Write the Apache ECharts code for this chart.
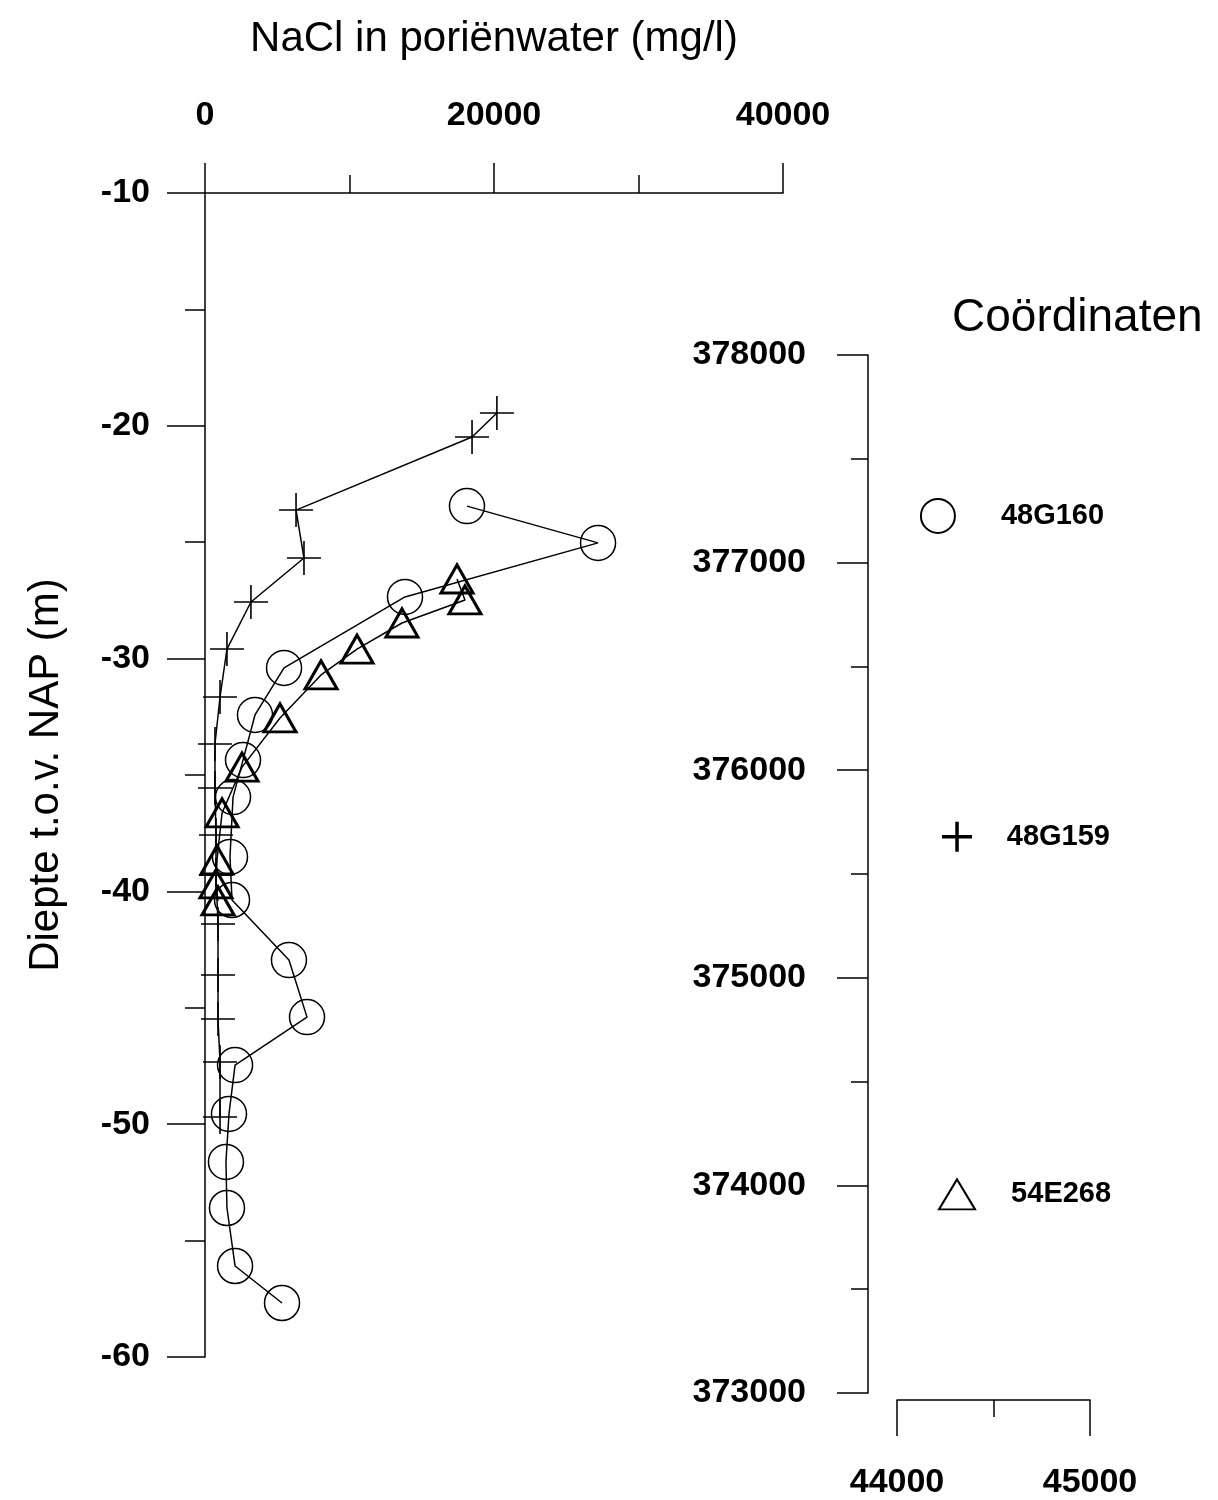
<!DOCTYPE html>
<html><head><meta charset="utf-8">
<script src="https://cdn.jsdelivr.net/npm/echarts@6/dist/echarts.min.js"></script>
<style>html,body{margin:0;padding:0;background:#fff}#c{width:1218px;height:1500px}</style>
</head><body><div id="c"></div>
<script>
// ---- data ----
const naclTicks = [0, 20000, 40000];
const depthTicks = [-60, -50, -40, -30, -20, -10];
const coordYTicks = [373000, 374000, 375000, 376000, 377000, 378000];
const coordXTicks = [44000, 45000];

// 48G160 (circles)
const nacl48G160 = [18130, 27200, 13840, 5470, 3460, 2630, 1940, 1730, 1870, 5810, 7060, 2080, 1660, 1450, 1520, 2080, 5330];
const depth48G160 = [-23.45, -25.03, -27.35, -30.40, -32.42, -34.36, -35.95, -38.52, -40.37, -42.95, -45.40, -47.46, -49.56, -51.62, -53.60, -56.09, -57.68];

// 48G159 (plus)
const nacl48G159 = [20200, 18480, 6300, 6850, 3180, 1520, 1040, 690, 690, 760, 760, 900, 900, 900, 1040, 1040];
const depth48G159 = [-19.45, -20.48, -23.62, -25.68, -27.57, -29.59, -31.65, -33.67, -35.56, -37.58, -39.30, -41.40, -43.59, -45.48, -47.33, -49.69];

// 54E268 (triangles)
const nacl54E268 = [17440, 17990, 13630, 10520, 8030, 5190, 2560, 1180, 830, 760, 900];
const depth54E268 = [-26.58, -27.48, -28.47, -29.59, -30.70, -32.55, -34.66, -36.63, -38.65, -39.68, -40.41];

// Coordinates of the wells
const wellNames = ['48G160', '48G159', '54E268'];
const wellX = [44212, 44311, 44311];
const wellY = [377225, 375679, 373957];

// ---- chart ----
const FONT = '"Liberation Sans", Arial, sans-serif';
const zip = (a, b) => a.map((v, i) => [v, b[i]]);
const black = '#000';
const PLUS = 'path://M10,0L10,20M0,10L20,10';
const symbols = ['circle', PLUS, 'triangle'];

const axisCommon = {
  type: 'value',
  splitLine: { show: false },
  axisLine: { show: true, onZero: false, lineStyle: { color: black, width: 1.5 } },
  axisTick: { show: true, lineStyle: { color: black, width: 1.5 } },
  minorTick: { show: true, splitNumber: 2, lineStyle: { color: black, width: 1.5 } },
  axisLabel: { color: black, fontSize: 34, fontWeight: 'bold', fontFamily: FONT }
};
function ax(extra) {
  const o = JSON.parse(JSON.stringify(axisCommon));
  for (const k in extra) {
    if (typeof extra[k] === 'object' && o[k] && !Array.isArray(extra[k])) Object.assign(o[k], extra[k]);
    else o[k] = extra[k];
  }
  o.axisLabel.formatter = (v) => String(v);
  return o;
}

const chart = echarts.init(document.getElementById('c'), null, { renderer: 'canvas' });
chart.setOption({
  animation: false,
  backgroundColor: '#fff',
  title: {
    text: 'Coördinaten', left: 947, top: 290,
    textStyle: { fontSize: 46, fontWeight: 'normal', color: black, fontFamily: FONT }
  },
  grid: [
    { left: 205, top: 193, width: 578, height: 1164 },
    { left: 897, top: 355, width: 193, height: 1045 }
  ],
  xAxis: [
    ax({
      gridIndex: 0, position: 'top', min: naclTicks[0], max: naclTicks[naclTicks.length - 1],
      interval: naclTicks[1] - naclTicks[0],
      axisTick: { length: 30 }, minorTick: { length: 18 },
      axisLabel: { margin: 60 },
      name: 'NaCl in poriënwater (mg/l)', nameLocation: 'middle', nameGap: 133,
      nameTextStyle: { fontSize: 42, color: black, fontFamily: FONT }
    }),
    ax({
      gridIndex: 1, position: 'bottom', offset: 7,
      min: coordXTicks[0], max: coordXTicks[coordXTicks.length - 1],
      interval: coordXTicks[1] - coordXTicks[0],
      axisTick: { length: 36 }, minorTick: { length: 17 },
      axisLabel: { margin: 66 }
    })
  ],
  yAxis: [
    ax({
      gridIndex: 0, position: 'left', min: depthTicks[0], max: depthTicks[depthTicks.length - 1],
      interval: depthTicks[1] - depthTicks[0],
      axisTick: { length: 38 }, minorTick: { length: 20 },
      axisLabel: { margin: 55 },
      name: 'Diepte t.o.v. NAP (m)', nameLocation: 'middle', nameGap: 138,
      nameTextStyle: { fontSize: 42, color: black, fontFamily: FONT }
    }),
    ax({
      gridIndex: 1, position: 'left', offset: 29,
      min: coordYTicks[0], max: coordYTicks[coordYTicks.length - 1],
      interval: coordYTicks[1] - coordYTicks[0],
      axisTick: { length: 31 }, minorTick: { length: 17 },
      axisLabel: { margin: 62 }
    })
  ],
  series: [
    {
      name: '48G160', type: 'line', xAxisIndex: 0, yAxisIndex: 0,
      data: zip(nacl48G160, depth48G160),
      symbol: 'circle', symbolSize: 35, showAllSymbol: true,
      lineStyle: { color: black, width: 1.5 },
      itemStyle: { color: 'transparent', borderColor: black, borderWidth: 1.5, opacity: 1 }
    },
    {
      name: '48G159', type: 'line', xAxisIndex: 0, yAxisIndex: 0,
      data: zip(nacl48G159, depth48G159),
      symbol: PLUS, symbolSize: 34, showAllSymbol: true,
      lineStyle: { color: black, width: 1.5 },
      itemStyle: { color: 'transparent', borderColor: black, borderWidth: 1.6, opacity: 1 }
    },
    {
      name: '54E268', type: 'line', xAxisIndex: 0, yAxisIndex: 0,
      data: zip(nacl54E268, depth54E268),
      symbol: 'triangle', symbolSize: [32, 28], showAllSymbol: true,
      lineStyle: { color: black, width: 1.5 },
      itemStyle: { color: 'transparent', borderColor: black, borderWidth: 3, opacity: 1 }
    }
  ].concat(wellNames.map((n, i) => ({
    name: n + ' coord', type: 'scatter', xAxisIndex: 1, yAxisIndex: 1,
    data: [[wellX[i], wellY[i]]],
    symbol: symbols[i],
    symbolSize: i === 0 ? 34 : (i === 1 ? 30 : [36, 30]),
    itemStyle: { color: 'transparent', borderColor: black, borderWidth: i === 1 ? 3.5 : 2, opacity: 1 },
    label: {
      show: true, position: 'right', distance: i === 0 ? 45 : (i === 1 ? 33 : 35),
      formatter: n, color: black, opacity: 1, fontSize: 29, fontWeight: 'bold', fontFamily: FONT
    }
  })))
});
</script>
</body></html>
